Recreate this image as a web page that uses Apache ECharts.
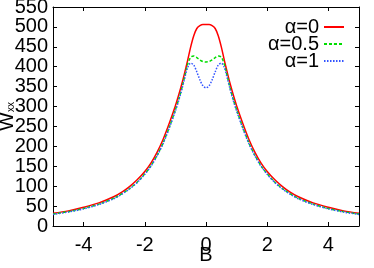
<!DOCTYPE html>
<html>
<head>
<meta charset="utf-8">
<script src="https://cdn.jsdelivr.net/npm/echarts@6/dist/echarts.min.js"></script>
<style>html,body{margin:0;padding:0;background:#fff}#c{width:374px;height:268px}</style>
</head>
<body>
<div id="c"></div>
<script>
var B = [-5,-4.5,-4,-3.5,-3,-2.75,-2.5,-2.25,-2,-1.8,-1.6,-1.4,-1.2,-1,-0.9,-0.8,-0.7,-0.6,-0.5,-0.4,-0.3,-0.2,-0.1,0,
         0.1,0.2,0.3,0.4,0.5,0.6,0.7,0.8,0.9,1,1.2,1.4,1.6,1.8,2,2.25,2.5,2.75,3,3.5,4,4.5,5];
var alpha0 = [32,38,47,58,74,85,99,116,137,158,185,218,258,302,327,354,384,416,450,478,496,503,506,506,
              506,503,496,478,450,416,384,354,327,302,258,218,185,158,137,116,99,85,74,58,47,38,32];
var alpha05 = [30,36,44,55,70,81,94,110,131,151,177,209,248,292,316,343,374,406,424,427,423,417,413,412,
               413,417,423,427,424,406,374,343,316,292,248,209,177,151,131,110,94,81,70,55,44,36,30];
var alpha1 = [29,35,43,54,69,80,93,109,130,150,176,207,246,289,313,340,370,398,409,404,387,367,352,347,
              352,367,387,404,409,398,370,340,313,289,246,207,176,150,130,109,93,80,69,54,43,35,29];
var xTicks = [-4,-2,0,2,4];
var yTicksEven = [0,100,200,300,400,500];
var yTicksOdd = [50,150,250,350,450,550];
var names = ['α=0','α=0.5','α=1'];

function pairs(v){ return B.map(function(b,i){ return [b, v[i]]; }); }
var font = 'Liberation Sans, Arial, sans-serif';
var FS = 20;
var chart = echarts.init(document.getElementById('c'), null, {renderer:'canvas'});
var xBase = {
  type:'value', min:-5, max:5,
  axisLine:{show:true, onZero:false, lineStyle:{color:'#000', width:1}},
  axisTick:{show:true, inside:true, length:4, customValues:xTicks, lineStyle:{color:'#000'}},
  splitLine:{show:false}
};
var yBase = {
  type:'value', min:0, max:550, interval:50, offset:0,
  axisLine:{show:true, onZero:false, lineStyle:{color:'#000', width:1}},
  axisTick:{show:true, inside:true, length:4, lineStyle:{color:'#000'}},
  splitLine:{show:false}
};
var yLabel = {show:true, margin:5, fontFamily:font, fontSize:FS, color:'#000'};
chart.setOption({
  animation:false,
  backgroundColor:'#fff',
  grid:{left:53, right:15, top:7, bottom:42, containLabel:false, outerBoundsMode:'none'},
  legend:{
    orient:'vertical', right:24, top:12, align:'right',
    itemWidth:20, itemHeight:1, itemGap:-3,
    textStyle:{fontFamily:font, fontSize:FS, color:'#000'},
    data:names
  },
  xAxis:[
    Object.assign({}, xBase, {
      position:'bottom', name:'B', nameLocation:'middle', nameGap:19, nameMoveOverlap:false,
      nameTextStyle:{fontFamily:font, fontSize:FS, color:'#000'},
      axisLabel:{show:true, customValues:xTicks, margin:9, fontFamily:font, fontSize:FS, color:'#000'}
    }),
    Object.assign({}, xBase, {position:'top', axisLabel:{show:false}})
  ],
  yAxis:[
    Object.assign({}, yBase, {
      position:'left', name:'{w|W}{s|xx}', nameLocation:'middle', nameGap:36, nameRotate:90,
      nameMoveOverlap:false,
      nameTextStyle:{rich:{
        w:{fontFamily:font, fontSize:FS, color:'#000'},
        s:{fontFamily:font, fontSize:10, color:'#000', padding:[8,0,0,0]}
      }},
      axisLabel:Object.assign({customValues:yTicksEven, showMinLabel:true, showMaxLabel:true}, yLabel)
    }),
    Object.assign({}, yBase, {
      position:'left', offset:0, axisLine:{show:false}, axisTick:{show:false},
      axisLabel:Object.assign({customValues:yTicksOdd, showMinLabel:true, showMaxLabel:true}, yLabel)
    }),
    Object.assign({}, yBase, {position:'right', axisLabel:{show:false}})
  ],
  series:[
    {name:names[0], type:'line', data:pairs(alpha0), symbol:'none', smooth:0.3,
     lineStyle:{color:'#ff0000', width:1.5, type:'solid'}, itemStyle:{color:'#ff0000'}},
    {name:names[1], type:'line', data:pairs(alpha05), symbol:'none', smooth:0.3,
     lineStyle:{color:'#00dd00', width:1.5, type:[3,2]}, itemStyle:{color:'#00dd00'}},
    {name:names[2], type:'line', data:pairs(alpha1), symbol:'none', smooth:0.3,
     lineStyle:{color:'#3355ff', width:1.5, type:[1.5,1.5]}, itemStyle:{color:'#3355ff'}}
  ]
});
</script>
</body>
</html>
